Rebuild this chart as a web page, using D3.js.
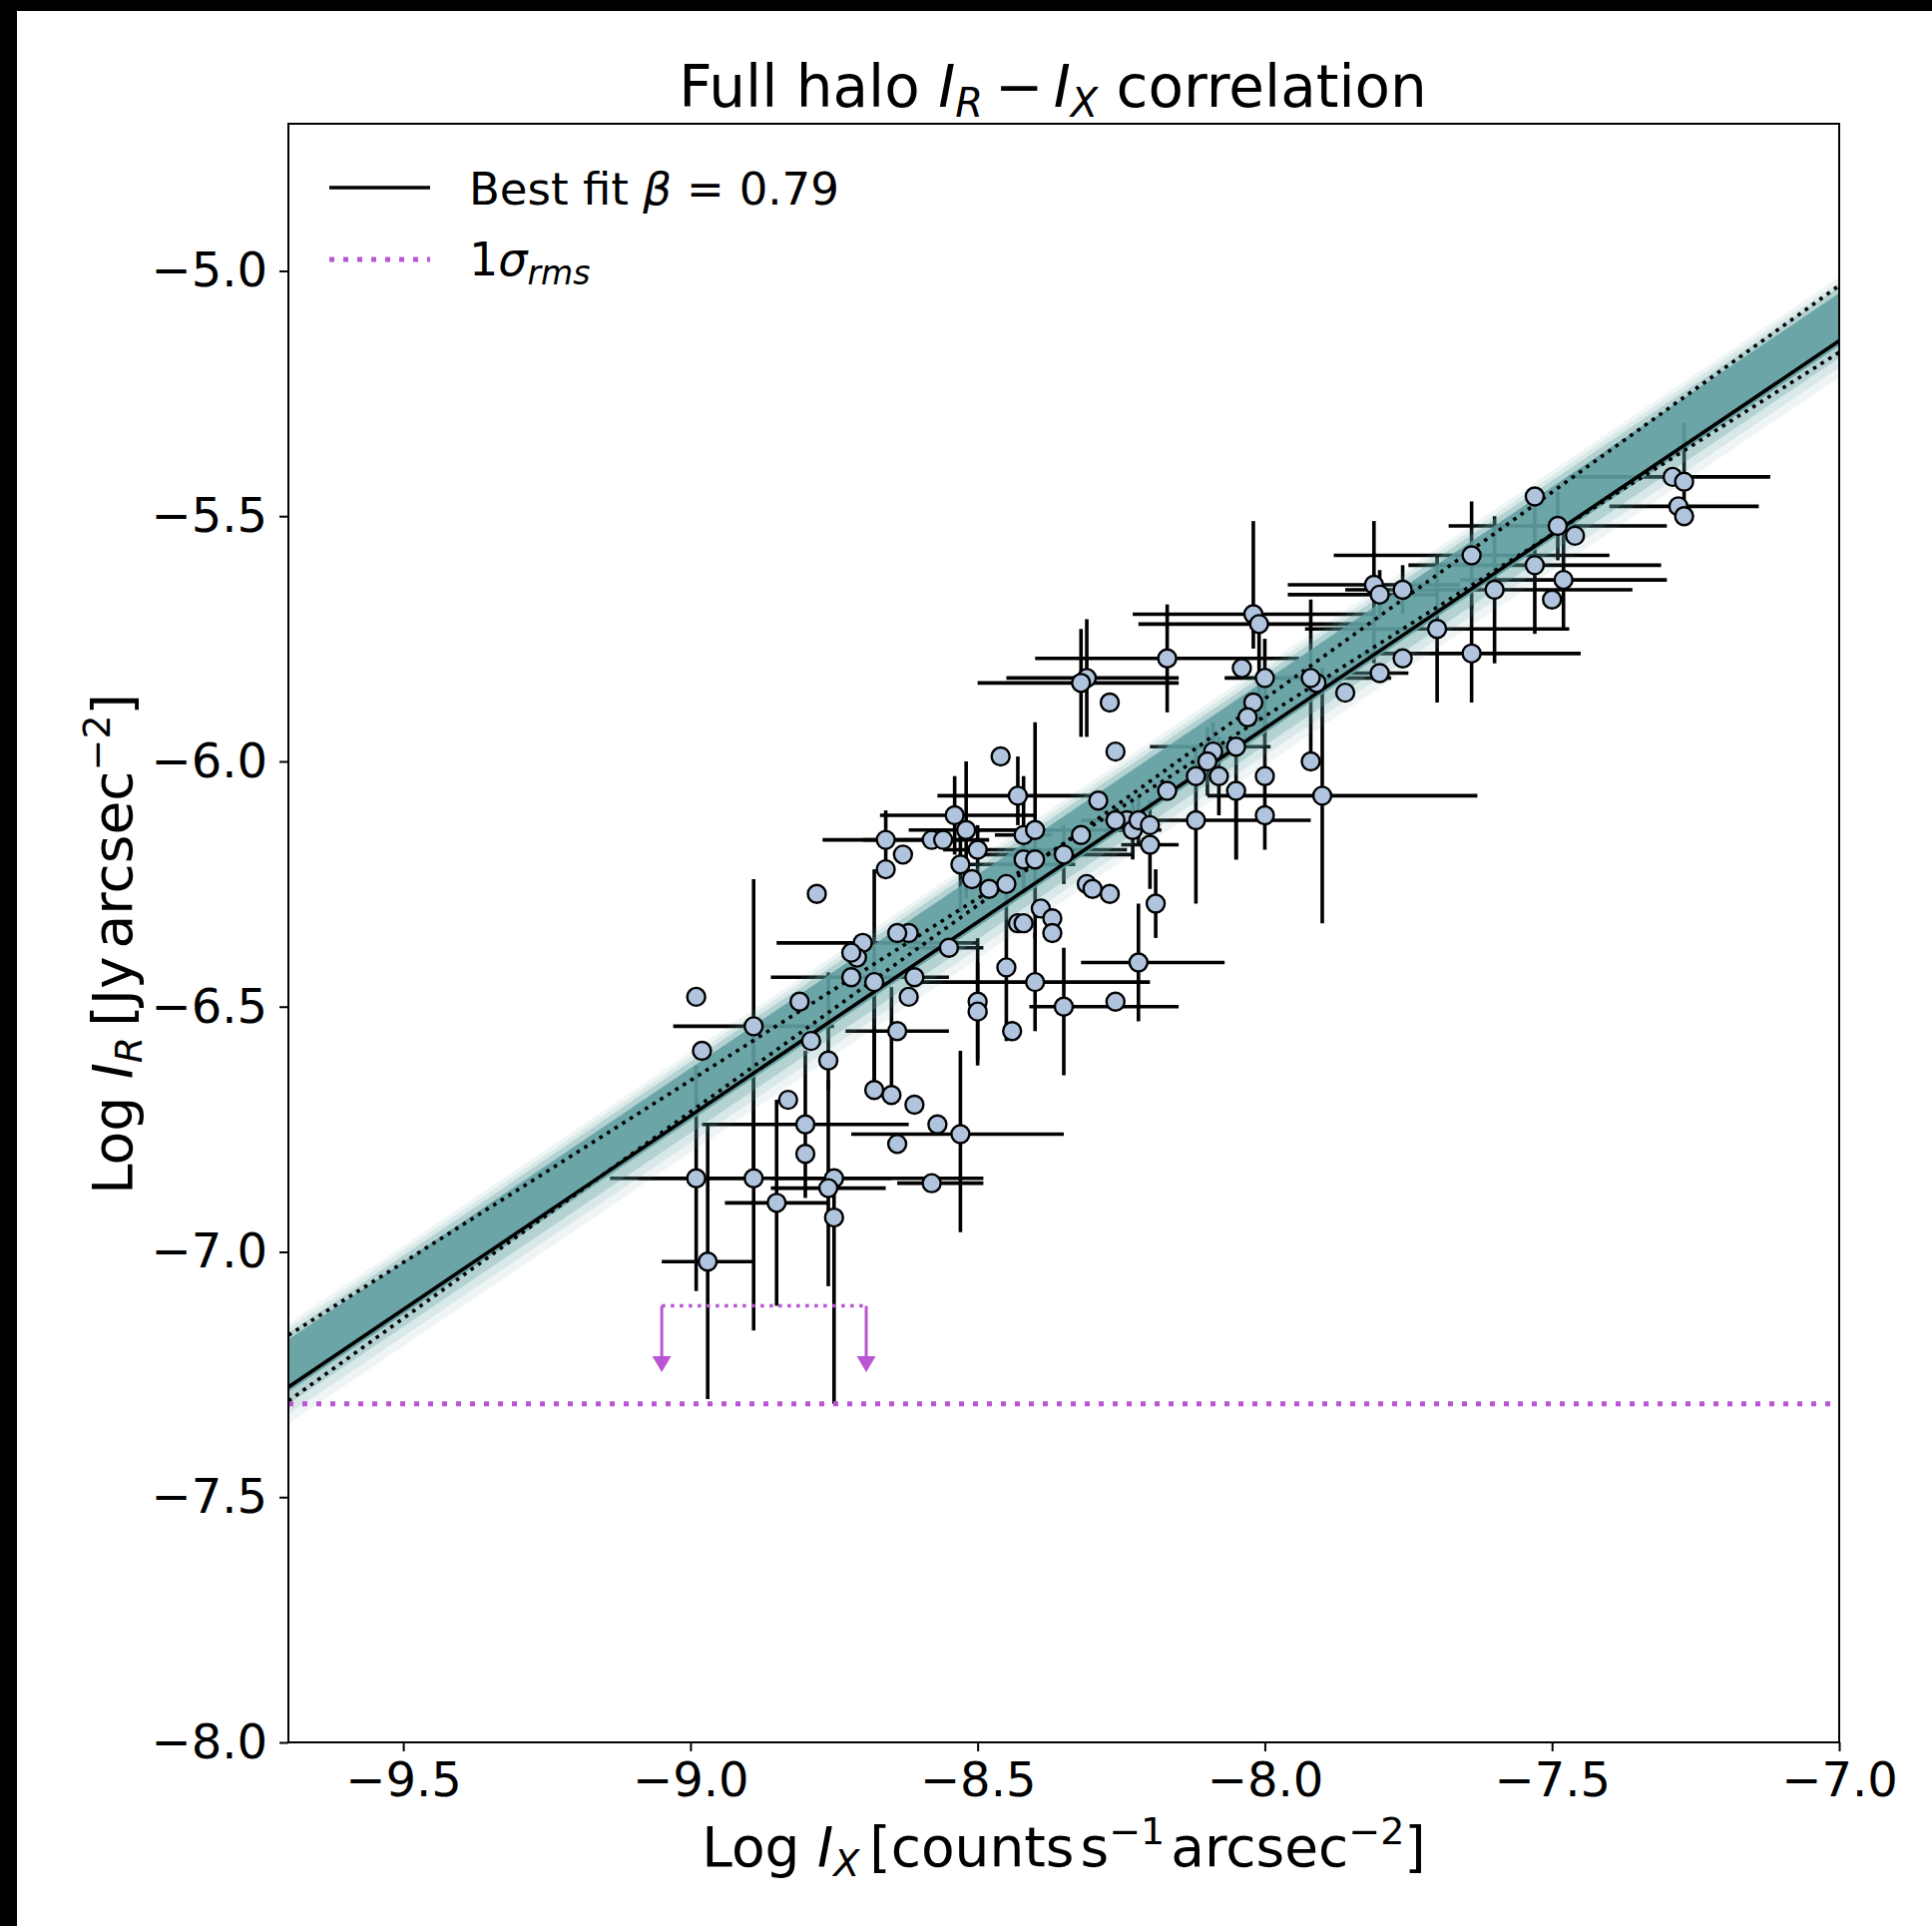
<!DOCTYPE html>
<html><head><meta charset="utf-8">
<script src="https://cdn.jsdelivr.net/npm/d3@7"></script>
<style>body{margin:0;background:#fff;} svg{display:block;} text{font-family:"DejaVu Sans";fill:#000;}</style>
</head><body><svg id="chart" width="1936" height="1930"></svg>
<script>
// ---- data ----
const logIX = [
 -7.29,-7.27,-7.28,-7.27,-7.49,-7.46,-7.53,-7.64,-7.64,-7.60,
 -7.53,-7.48,-7.50,-7.70,-7.76,-7.76,-7.81,-7.80,-7.80,-7.86,
 -7.91,-7.90,-7.92,-8.00,-8.00,-8.04,-8.02,-8.01,-8.17,-8.27,
 -8.26,-8.02,-8.03,-8.05,-8.09,-8.10,-8.12,-8.08,-8.17,-8.05,
 -8.00,-7.92,-8.24,-8.23,-8.22,-8.20,-8.20,-8.26,-8.12,-8.19,
 -8.27,-8.29,-8.31,-8.32,-8.46,-8.43,-8.54,-8.66,-8.58,-8.56,
 -8.52,-8.42,-8.40,-8.32,-8.35,-8.42,-8.40,-8.63,-8.66,-8.53,
 -8.50,-8.51,-8.31,-8.30,-8.48,-8.45,-8.78,-8.39,-8.37,-8.43,
 -8.42,-8.37,-8.55,-8.62,-8.64,-8.70,-8.71,-8.72,-8.72,-8.68,
 -8.61,-8.62,-8.99,-8.81,-8.89,-8.98,-8.79,-8.76,-8.64,-8.50,
 -8.50,-8.45,-8.40,-8.35,-8.26,-8.44,-8.22,-8.68,-8.65,-8.61,
 -8.57,-8.53,-8.64,-8.83,-8.80,-8.80,-8.99,-8.89,-8.75,-8.58,
 -8.76,-8.85,-8.75,-8.97
];
const logIR = [
 -5.42,-5.43,-5.48,-5.50,-5.52,-5.54,-5.46,-5.58,-5.78,-5.65,
 -5.60,-5.63,-5.67,-5.73,-5.65,-5.79,-5.64,-5.66,-5.82,-5.86,
 -5.84,-6.07,-5.83,-5.83,-6.03,-5.81,-5.70,-5.72,-5.79,-5.88,
 -5.98,-5.88,-5.91,-5.97,-5.98,-6.00,-6.03,-6.03,-6.06,-6.06,
 -6.11,-6.00,-6.12,-6.14,-6.12,-6.17,-6.13,-6.12,-6.12,-6.29,
 -6.27,-6.08,-5.83,-5.84,-5.99,-6.07,-6.11,-6.16,-6.16,-6.16,
 -6.14,-6.15,-6.14,-6.15,-6.19,-6.20,-6.20,-6.19,-6.22,-6.21,
 -6.18,-6.24,-6.25,-6.26,-6.26,-6.25,-6.27,-6.30,-6.32,-6.33,
 -6.33,-6.35,-6.38,-6.35,-6.35,-6.37,-6.40,-6.39,-6.44,-6.45,
 -6.44,-6.48,-6.48,-6.49,-6.54,-6.59,-6.57,-6.61,-6.55,-6.49,
 -6.51,-6.42,-6.45,-6.50,-6.49,-6.55,-6.41,-6.67,-6.68,-6.70,
 -6.74,-6.76,-6.78,-6.69,-6.74,-6.80,-6.85,-6.85,-6.85,-6.86,
 -6.87,-6.90,-6.93,-7.02
];
const errXlo = [
 .18,.01,.12,.01,.19,.01,.01,.24,.19,.10,
 .22,.18,.01,.23,.10,.01,.15,.16,.05,.01,
 .01,.20,.15,.01,.01,.01,.21,.21,.23,.01,
 .01,.01,.01,.15,.01,.01,.01,.01,.01,.01,
 .01,.01,.05,.05,.01,.05,.01,.05,.20,.01,
 .01,.01,.14,.18,.01,.14,.13,.11,.12,.01,
 .10,.05,.12,.01,.14,.01,.01,.01,.01,.01,
 .06,.01,.01,.01,.01,.01,.01,.01,.01,.01,
 .01,.01,.07,.01,.01,.15,.01,.01,.14,.01,
 .01,.01,.01,.01,.14,.01,.01,.01,.09,.01,
 .01,.01,.20,.06,.01,.01,.10,.01,.01,.01,
 .01,.19,.01,.01,.18,.01,.10,.25,.11,.06,
 .10,.09,.01,.08
];
const errXhi = [
 .17,.01,.14,.01,.19,.01,.01,.24,.19,.24,
 .22,.18,.01,.23,.10,.01,.15,.10,.05,.01,
 .01,.27,.14,.01,.01,.01,.21,.20,.23,.01,
 .01,.01,.01,.06,.01,.01,.01,.01,.01,.01,
 .01,.01,.05,.05,.01,.05,.01,.05,.20,.01,
 .01,.01,.16,.17,.01,.14,.14,.13,.10,.01,
 .20,.05,.20,.01,.12,.01,.01,.01,.01,.20,
 .26,.01,.01,.01,.01,.01,.01,.01,.01,.01,
 .01,.01,.06,.01,.01,.20,.01,.01,.17,.01,
 .01,.01,.01,.01,.14,.01,.01,.01,.09,.01,
 .01,.01,.20,.20,.01,.01,.15,.01,.01,.01,
 .01,.18,.01,.01,.18,.01,.10,.24,.26,.09,
 .10,.09,.01,.08
];
const errYlo = [
 .01,.01,.01,.01,.07,.01,.01,.11,.10,.15,
 .14,.10,.01,.15,.05,.01,.16,.05,.01,.01,
 .01,.26,.15,.12,.15,.01,.07,.20,.11,.01,
 .01,.01,.01,.23,.06,.07,.01,.08,.01,.14,
 .01,.01,.01,.06,.05,.09,.01,.01,.17,.07,
 .01,.01,.12,.11,.01,.06,.08,.06,.01,.01,
 .14,.12,.22,.01,.06,.01,.01,.01,.01,.10,
 .05,.01,.01,.01,.01,.01,.01,.01,.01,.01,
 .01,.01,.01,.01,.01,.01,.01,.01,.01,.23,
 .01,.01,.01,.01,.30,.01,.01,.06,.01,.13,
 .10,.15,.10,.14,.01,.01,.12,.01,.01,.01,
 .01,.20,.01,.01,.15,.01,.23,.31,.01,.01,
 .20,.21,.38,.28
];
const errYhi = [
 .01,.12,.01,.05,.07,.01,.01,.11,.10,.15,
 .15,.10,.01,.15,.05,.01,.13,.05,.01,.01,
 .01,.26,.16,.08,.14,.01,.19,.01,.11,.01,
 .01,.01,.01,.01,.06,.07,.01,.08,.01,.01,
 .01,.01,.01,.06,.05,.09,.01,.01,.15,.07,
 .01,.01,.12,.11,.01,.08,.08,.06,.01,.01,
 .14,.12,.22,.01,.06,.01,.01,.01,.01,.10,
 .05,.01,.01,.01,.01,.01,.01,.01,.01,.01,
 .01,.01,.01,.01,.01,.01,.01,.01,.01,.23,
 .01,.01,.01,.01,.30,.01,.01,.18,.01,.13,
 .10,.15,.10,.12,.01,.01,.12,.25,.22,.01,
 .01,.17,.01,.01,.15,.01,.23,.27,.01,.01,
 .22,.21,.08,.28
];
const xTicks = [-9.5, -9.0, -8.5, -8.0, -7.5, -7.0];
const yTicks = [-8.0, -7.5, -7.0, -6.5, -6.0, -5.5, -5.0];
const xDomain = [-9.7, -7.0];
const yDomain = [-8.0, -4.7];
// best-fit line (slope beta through a pivot) and the two dotted alternative fits
const fitBeta = 0.79, fitPivotX = -8.35, fitPivotY = -6.209;
const dottedFitStart = [-7.304, -7.170];   // y at x = -9.7
const dottedFitEnd   = [-5.030, -5.166];   // y at x = -7.0
// posterior band: offsets from the fit (lo, hi) and layer opacity
const bandLo = [-0.075, -0.055, -0.035, -0.01];
const bandHi = [0.13, 0.12, 0.11, 0.097];
const bandOpacity = [0.10, 0.15, 0.30, 0.85];
// 1 sigma rms level and upper-limit bracket
const rmsLevel = -7.31;
const limitX = [-9.05, -8.694];
const limitY = -7.11;
const limitTip = -7.245;

// ---- drawing ----
const svg = d3.select("#chart");
const L = 289, R = 1843, T = 124, B = 1746;
const x = d3.scaleLinear(xDomain, [L, R]);
const y = d3.scaleLinear(yDomain, [B, T]);
const fit = xv => fitPivotY + fitBeta * (xv - fitPivotX);

svg.append("rect").attr("width",1936).attr("height",1930).attr("fill","#fff");
svg.append("rect").attr("x",0).attr("y",0).attr("width",17).attr("height",1930).attr("fill","#000");
svg.append("rect").attr("x",0).attr("y",0).attr("width",1936).attr("height",11).attr("fill","#000");

svg.append("defs").append("clipPath").attr("id","clip")
  .append("rect").attr("x",L).attr("y",T).attr("width",R-L).attr("height",B-T);
const plot = svg.append("g").attr("clip-path","url(#clip)");

const pts = logIX.map((v,i)=>({x:v, y:logIR[i], exl:errXlo[i], exh:errXhi[i], eyl:errYlo[i], eyh:errYhi[i]}));

// error bars
const eb = plot.append("g").attr("stroke","#000").attr("stroke-width",3.6);
pts.forEach(p=>{
  eb.append("line").attr("x1",x(p.x-p.exl)).attr("x2",x(p.x+p.exh)).attr("y1",y(p.y)).attr("y2",y(p.y));
  eb.append("line").attr("x1",x(p.x)).attr("x2",x(p.x)).attr("y1",y(p.y-p.eyl)).attr("y2",y(p.y+p.eyh));
});

// posterior band
bandLo.forEach((lo,i)=>{
  const hi = bandHi[i];
  const xs = xDomain;
  const poly = [[x(xs[0]), y(fit(xs[0])+hi)], [x(xs[1]), y(fit(xs[1])+hi)],
                [x(xs[1]), y(fit(xs[1])+lo)], [x(xs[0]), y(fit(xs[0])+lo)]];
  plot.append("polygon").attr("points", poly.map(p=>p.join(",")).join(" "))
    .attr("fill","#5F9EA0").attr("fill-opacity", bandOpacity[i]);
});

// best fit
plot.append("line").attr("x1",x(xDomain[0])).attr("x2",x(xDomain[1]))
  .attr("y1",y(fit(xDomain[0]))).attr("y2",y(fit(xDomain[1])))
  .attr("stroke","#000").attr("stroke-width",3.6);
dottedFitStart.forEach((s,i)=>{
  plot.append("line").attr("x1",x(xDomain[0])).attr("x2",x(xDomain[1]))
    .attr("y1",y(s)).attr("y2",y(dottedFitEnd[i]))
    .attr("stroke","#000").attr("stroke-width",3.6).attr("stroke-dasharray","3.6,5.4");
});

// rms level
const purple = "#BA55D3";
plot.append("line").attr("x1",L).attr("x2",R).attr("y1",y(rmsLevel)).attr("y2",y(rmsLevel))
  .attr("stroke",purple).attr("stroke-width",5).attr("stroke-dasharray","5,9");
plot.append("line").attr("x1",x(limitX[0])).attr("x2",x(limitX[1])).attr("y1",y(limitY)).attr("y2",y(limitY))
  .attr("stroke",purple).attr("stroke-width",3.5).attr("stroke-dasharray","3.5,5.5");
limitX.forEach(lx=>{
  const tipY = y(limitTip), headY = tipY - 16;
  plot.append("line").attr("x1",x(lx)).attr("x2",x(lx)).attr("y1",y(limitY)).attr("y2",headY+1)
    .attr("stroke",purple).attr("stroke-width",3);
  plot.append("polygon").attr("points",`${x(lx)-9.5},${headY} ${x(lx)+9.5},${headY} ${x(lx)},${tipY}`)
    .attr("fill",purple);
});

// points
plot.append("g").selectAll("circle").data(pts).join("circle")
  .attr("cx",d=>x(d.x)).attr("cy",d=>y(d.y)).attr("r",9)
  .attr("fill","#B0C4DE").attr("stroke","#000").attr("stroke-width",2.4);

// frame
svg.append("rect").attr("x",L).attr("y",T).attr("width",R-L).attr("height",B-T)
  .attr("fill","none").attr("stroke","#000").attr("stroke-width",2);

// axes
const fmt = d3.format(".1f");
const gx = svg.append("g").attr("transform",`translate(0,${B})`)
  .call(d3.axisBottom(x).tickValues(xTicks).tickSize(9).tickPadding(11).tickFormat(fmt));
const gy = svg.append("g").attr("transform",`translate(${L},0)`)
  .call(d3.axisLeft(y).tickValues(yTicks).tickSize(9).tickPadding(12).tickFormat(fmt));
[gx,gy].forEach(g=>{
  g.select(".domain").remove();
  g.selectAll(".tick line").attr("stroke","#000").attr("stroke-width",2);
  g.selectAll(".tick text").attr("font-family","DejaVu Sans").attr("font-size",48).attr("fill","#000");
});

// title
const title = svg.append("text").attr("x",1055).attr("y",107).attr("text-anchor","middle").attr("font-size",58);
title.append("tspan").text("Full halo ");
title.append("tspan").attr("font-style","italic").text("I");
title.append("tspan").attr("font-style","italic").attr("font-size",40).attr("dy",10).text("R");
title.append("tspan").attr("dy",-10).attr("dx",12).text("\u2212");
title.append("tspan").attr("font-style","italic").attr("dx",10).text("I");
title.append("tspan").attr("font-style","italic").attr("font-size",40).attr("dy",10).text("X");
title.append("tspan").attr("dy",-10).text(" correlation");

// x label
const cx = (L+R)/2;
const xl = svg.append("text").attr("x",cx).attr("y",1870).attr("text-anchor","middle").attr("font-size",55);
xl.append("tspan").text("Log ");
xl.append("tspan").attr("font-style","italic").text("I");
xl.append("tspan").attr("font-style","italic").attr("font-size",38).attr("dy",10).text("X");
xl.append("tspan").attr("dy",-10).attr("dx",10).text("[counts");
xl.append("tspan").attr("dx",6).text("s");
xl.append("tspan").attr("font-size",38).attr("dy",-22).text("\u22121");
xl.append("tspan").attr("dy",22).attr("dx",6).text("arcsec");
xl.append("tspan").attr("font-size",38).attr("dy",-22).text("\u22122");
xl.append("tspan").attr("dy",22).text("]");

// y label
const yl = svg.append("text").attr("transform",`translate(132,946) rotate(-90)`)
  .attr("text-anchor","middle").attr("font-size",55);
yl.append("tspan").text("Log ");
yl.append("tspan").attr("font-style","italic").text("I");
yl.append("tspan").attr("font-style","italic").attr("font-size",38).attr("dy",10).text("R");
yl.append("tspan").attr("dy",-10).attr("dx",10).text("[Jy");
yl.append("tspan").attr("dx",8).text("arcsec");
yl.append("tspan").attr("font-size",38).attr("dy",-22).text("\u22122");
yl.append("tspan").attr("dy",22).text("]");

// legend
svg.append("line").attr("x1",330).attr("x2",431).attr("y1",188).attr("y2",188)
  .attr("stroke","#000").attr("stroke-width",3.6);
const lt1 = svg.append("text").attr("x",470).attr("y",205).attr("font-size",45);
lt1.append("tspan").text("Best fit ");
lt1.append("tspan").attr("font-style","italic").text("\u03B2");
lt1.append("tspan").attr("dx",15).text("=");
lt1.append("tspan").attr("dx",15).text("0.79");
svg.append("line").attr("x1",330).attr("x2",431).attr("y1",260).attr("y2",260)
  .attr("stroke",purple).attr("stroke-width",5).attr("stroke-dasharray","5,9");
const lt2 = svg.append("text").attr("x",470).attr("y",276).attr("font-size",46);
lt2.append("tspan").text("1");
lt2.append("tspan").attr("font-style","italic").text("\u03C3");
lt2.append("tspan").attr("font-style","italic").attr("font-size",33).attr("dy",9).text("rms");
</script></body></html>
